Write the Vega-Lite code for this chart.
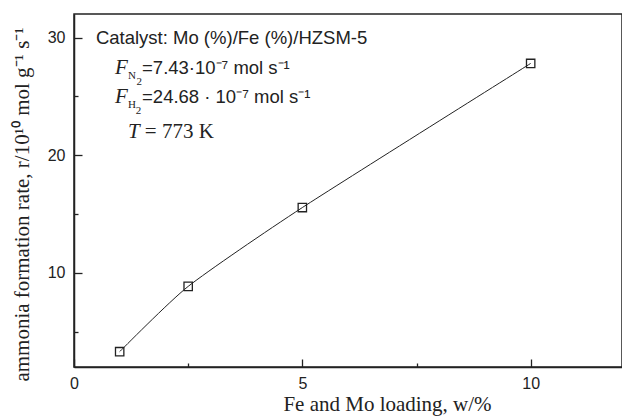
{
  "$schema": "https://vega.github.io/schema/vega-lite/v6.json",
  "width": 548,
  "height": 353,
  "autosize": "none",
  "padding": {"left": 74, "top": 14, "right": 0, "bottom": 51},
  "background": "white",
  "config": {
    "view": {"stroke": "#222", "strokeWidth": 1.5},
    "axis": {"grid": false, "domainColor": "#222", "domainWidth": 1.5, "tickColor": "#222", "tickWidth": 1.3, "labelColor": "#222", "titleColor": "#222", "labelFont": "Liberation Sans", "labelFontSize": 16, "titleFont": "Liberation Serif", "titleFontSize": 21, "titleFontWeight": "normal"}
  },
  "datasets": {
    "pts": [
      {"loading": 1, "rate": 3.3},
      {"loading": 2.5, "rate": 8.85},
      {"loading": 5, "rate": 15.55},
      {"loading": 10, "rate": 27.8}
    ],
    "sans": [
      {"x": 0.48, "y": 30.0, "t": "Catalyst: Mo (%)/Fe (%)/HZSM-5"},
      {"x": 1.49, "y": 27.45, "t": "=7.43·10⁻⁷ mol s⁻¹"},
      {"x": 1.49, "y": 24.98, "t": "=24.68 · 10⁻⁷ mol s⁻¹"}
    ],
    "ital": [
      {"x": 0.9, "y": 27.45, "t": "F"},
      {"x": 0.9, "y": 24.98, "t": "F"},
      {"x": 1.18, "y": 22.0, "t": "T"}
    ],
    "sub": [
      {"x": 1.18, "y": 26.75, "t": "N"},
      {"x": 1.18, "y": 24.28, "t": "H"}
    ],
    "sub2": [
      {"x": 1.37, "y": 26.25, "t": "2"},
      {"x": 1.35, "y": 23.78, "t": "2"}
    ],
    "serif": [
      {"x": 1.55, "y": 22.0, "t": "= 773 K"}
    ]
  },
  "layer": [
    {
      "data": {"name": "pts"},
      "mark": {"type": "line", "interpolate": "cardinal", "tension": 0.4, "color": "#222", "strokeWidth": 1},
      "encoding": {
        "x": {"field": "loading", "type": "quantitative", "scale": {"domain": [0, 12], "nice": false},
          "axis": {"orient": "bottom", "values": [0, 5, 10], "tickSize": -8, "labelPadding": 16, "title": "Fe and Mo loading, w/%", "titlePadding": 2, "titleX": 313, "labelFlush": false}},
        "y": {"field": "rate", "type": "quantitative", "scale": {"domain": [2, 32], "nice": false, "zero": false},
          "axis": {"orient": "left", "values": [10, 20, 30], "tickSize": -8, "labelPadding": 17, "title": "ammonia formation rate, r/10¹⁰ mol g⁻¹ s⁻¹", "titlePadding": 15, "titleY": 190}}
      }
    },
    {
      "data": {"name": "pts"},
      "mark": {"type": "point", "shape": "square", "size": 70, "filled": false, "color": "#222", "strokeWidth": 1.3, "opacity": 1},
      "encoding": {
        "x": {"field": "loading", "type": "quantitative",
          "axis": {"orient": "bottom", "values": [2.5, 7.5], "tickSize": -4, "labels": false, "domain": false, "title": null}},
        "y": {"field": "rate", "type": "quantitative",
          "axis": {"orient": "left", "values": [5, 15, 25], "tickSize": -4, "labels": false, "domain": false, "title": null}}
      }
    },
    {
      "data": {"name": "sans"},
      "mark": {"type": "text", "align": "left", "baseline": "middle", "font": "Liberation Sans", "fontSize": 18.5, "color": "#222"},
      "encoding": {"x": {"field": "x", "type": "quantitative", "axis": null}, "y": {"field": "y", "type": "quantitative", "axis": null}, "text": {"field": "t"}}
    },
    {
      "data": {"name": "ital"},
      "mark": {"type": "text", "align": "left", "baseline": "middle", "font": "Liberation Serif", "fontStyle": "italic", "fontSize": 21, "color": "#222"},
      "encoding": {"x": {"field": "x", "type": "quantitative", "axis": null}, "y": {"field": "y", "type": "quantitative", "axis": null}, "text": {"field": "t"}}
    },
    {
      "data": {"name": "sub"},
      "mark": {"type": "text", "align": "left", "baseline": "middle", "font": "Liberation Serif", "fontSize": 11, "color": "#222"},
      "encoding": {"x": {"field": "x", "type": "quantitative", "axis": null}, "y": {"field": "y", "type": "quantitative", "axis": null}, "text": {"field": "t"}}
    },
    {
      "data": {"name": "sub2"},
      "mark": {"type": "text", "align": "left", "baseline": "middle", "font": "Liberation Serif", "fontSize": 11, "color": "#222"},
      "encoding": {"x": {"field": "x", "type": "quantitative", "axis": null}, "y": {"field": "y", "type": "quantitative", "axis": null}, "text": {"field": "t"}}
    },
    {
      "data": {"name": "serif"},
      "mark": {"type": "text", "align": "left", "baseline": "middle", "font": "Liberation Serif", "fontSize": 21, "color": "#222"},
      "encoding": {"x": {"field": "x", "type": "quantitative", "axis": null}, "y": {"field": "y", "type": "quantitative", "axis": null}, "text": {"field": "t"}}
    }
  ],
  "resolve": {"axis": {"x": "independent", "y": "independent"}}
}
